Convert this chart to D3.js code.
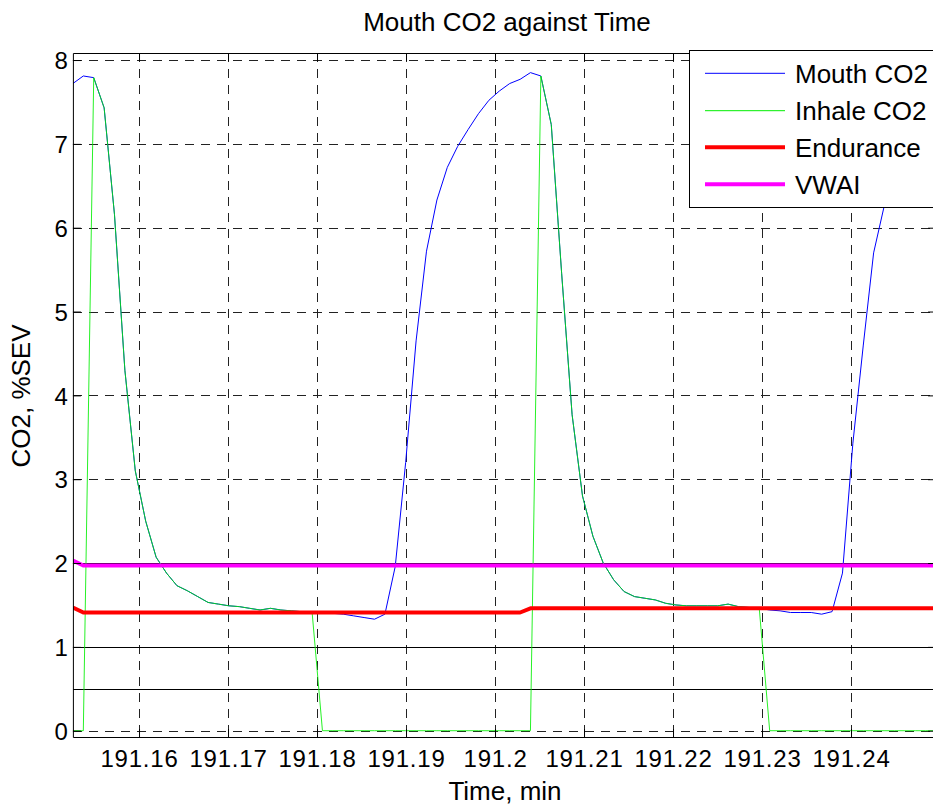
<!DOCTYPE html>
<html>
<head>
<meta charset="utf-8">
<script src="https://cdn.jsdelivr.net/npm/d3@7"></script>
<style>
  html, body { margin: 0; padding: 0; background: #fff; }
  svg { display: block; }
  text { font-family: "Liberation Sans", Arial, sans-serif; fill: #000; }
</style>
</head>
<body>
<svg id="chart" width="933" height="805"></svg>
<script>
// ---- DATA ----
const times = [
  191.15257, 191.15374, 191.15491, 191.15608, 191.15724, 191.15841, 191.15958, 191.16075, 191.16192, 191.16309,
  191.16426, 191.16542, 191.16659, 191.16776, 191.16893, 191.17010, 191.17127, 191.17243, 191.17360, 191.17477,
  191.17594, 191.17711, 191.17828, 191.17945, 191.18061, 191.18178, 191.18295, 191.18412, 191.18529, 191.18646,
  191.18763, 191.18879, 191.18996, 191.19113, 191.19230, 191.19347, 191.19464, 191.19580, 191.19697, 191.19814,
  191.19931, 191.20048, 191.20165, 191.20282, 191.20398, 191.20515, 191.20632, 191.20749, 191.20866, 191.20983,
  191.21100, 191.21216, 191.21333, 191.21450, 191.21567, 191.21684, 191.21801, 191.21917, 191.22034, 191.22151,
  191.22268, 191.22385, 191.22502, 191.22619, 191.22735, 191.22852, 191.22969, 191.23086, 191.23203, 191.23320,
  191.23436, 191.23553, 191.23670, 191.23787, 191.23904, 191.24021, 191.24138, 191.24254, 191.24371, 191.24488,
  191.24605, 191.24722, 191.24839, 191.24956
];
const mouthCO2 = [
  7.72, 7.81, 7.79, 7.43, 6.16, 4.30, 3.10, 2.50, 2.07, 1.88,
  1.73, 1.67, 1.60, 1.53, 1.51, 1.49, 1.48, 1.46, 1.44, 1.46,
  1.44, 1.43, 1.42, 1.41, 1.40, 1.40, 1.39, 1.37, 1.35, 1.33,
  1.39, 1.96, 3.20, 4.65, 5.72, 6.33, 6.72, 6.97, 7.17, 7.36,
  7.52, 7.63, 7.72, 7.77, 7.85, 7.81, 7.23, 5.45, 3.77, 2.80,
  2.32, 2.00, 1.80, 1.66, 1.60, 1.58, 1.56, 1.52, 1.50, 1.49,
  1.49, 1.49, 1.49, 1.51, 1.48, 1.47, 1.46, 1.44, 1.43, 1.41,
  1.41, 1.41, 1.39, 1.42, 1.88, 3.43, 4.60, 5.70, 6.25, 6.70,
  7.00, 7.25, 7.42, 7.55
];
const inhaleCO2 = [
  0, 0, 7.79, 7.43, 6.16, 4.30, 3.10, 2.50, 2.07, 1.88,
  1.73, 1.67, 1.60, 1.53, 1.51, 1.49, 1.48, 1.46, 1.44, 1.46,
  1.44, 1.43, 1.42, 1.41, 0, 0, 0, 0, 0, 0,
  0, 0, 0, 0, 0, 0, 0, 0, 0, 0,
  0, 0, 0, 0, 0, 7.81, 7.23, 5.45, 3.77, 2.80,
  2.32, 2.00, 1.80, 1.66, 1.60, 1.58, 1.56, 1.52, 1.50, 1.49,
  1.49, 1.49, 1.49, 1.51, 1.48, 1.47, 1.46, 0, 0, 0,
  0, 0, 0, 0, 0, 0, 0, 0, 0, 0,
  0, 0, 0, 0
];
const endurance = [
  1.47, 1.41, 1.41, 1.41, 1.41, 1.41, 1.41, 1.41, 1.41, 1.41,
  1.41, 1.41, 1.41, 1.41, 1.41, 1.41, 1.41, 1.41, 1.41, 1.41,
  1.41, 1.41, 1.41, 1.41, 1.41, 1.41, 1.41, 1.41, 1.41, 1.41,
  1.41, 1.41, 1.41, 1.41, 1.41, 1.41, 1.41, 1.41, 1.41, 1.41,
  1.41, 1.41, 1.41, 1.41, 1.46, 1.46, 1.46, 1.46, 1.46, 1.46,
  1.46, 1.46, 1.46, 1.46, 1.46, 1.46, 1.46, 1.46, 1.46, 1.46,
  1.46, 1.46, 1.46, 1.46, 1.46, 1.46, 1.46, 1.46, 1.46, 1.46,
  1.46, 1.46, 1.46, 1.46, 1.46, 1.46, 1.46, 1.46, 1.46, 1.46,
  1.46, 1.46, 1.46, 1.46
];
const vwai = [
  2.03, 1.97, 1.97, 1.97, 1.97, 1.97, 1.97, 1.97, 1.97, 1.97,
  1.97, 1.97, 1.97, 1.97, 1.97, 1.97, 1.97, 1.97, 1.97, 1.97,
  1.97, 1.97, 1.97, 1.97, 1.97, 1.97, 1.97, 1.97, 1.97, 1.97,
  1.97, 1.97, 1.97, 1.97, 1.97, 1.97, 1.97, 1.97, 1.97, 1.97,
  1.97, 1.97, 1.97, 1.97, 1.97, 1.97, 1.97, 1.97, 1.97, 1.97,
  1.97, 1.97, 1.97, 1.97, 1.97, 1.97, 1.97, 1.97, 1.97, 1.97,
  1.97, 1.97, 1.97, 1.97, 1.97, 1.97, 1.97, 1.97, 1.97, 1.97,
  1.97, 1.97, 1.97, 1.97, 1.97, 1.97, 1.97, 1.97, 1.97, 1.97,
  1.97, 1.97, 1.97, 1.97
];
const refLevels = [0.5, 1, 2];
const xTicks = [191.16, 191.17, 191.18, 191.19, 191.20, 191.21, 191.22, 191.23, 191.24];
const xTickLabels = ["191.16", "191.17", "191.18", "191.19", "191.2", "191.21", "191.22", "191.23", "191.24"];
const yTicks = [0, 1, 2, 3, 4, 5, 6, 7, 8];
const seriesNames = ["Mouth CO2", "Inhale CO2", "Endurance", "VWAI"];
const yDomain = [-0.075, 8.084];

// ---- LAYOUT ----
const L = 72.9, R = 936.1, T = 53, B = 737;
const svg = d3.select("#chart");

const x = d3.scaleLinear().domain([times[0], times[times.length - 1]]).range([L, R]);
const y = d3.scaleLinear().domain(yDomain).range([B, T]);

svg.append("defs").append("clipPath").attr("id", "plotclip")
  .append("rect").attr("x", L).attr("y", T).attr("width", R - L).attr("height", B - T);

// grid
const grid = svg.append("g").attr("stroke", "#222").attr("stroke-width", 1)
  .attr("stroke-dasharray", "9,7").attr("shape-rendering", "crispEdges");
grid.selectAll("line.v").data(xTicks).join("line").attr("class", "v")
  .attr("x1", d => Math.round(x(d)) + 0.5).attr("x2", d => Math.round(x(d)) + 0.5)
  .attr("y1", T).attr("y2", B);
grid.selectAll("line.h").data(yTicks).join("line").attr("class", "h")
  .attr("x1", L).attr("x2", R)
  .attr("y1", d => Math.round(y(d)) + 0.5).attr("y2", d => Math.round(y(d)) + 0.5);

// reference lines
svg.append("g").attr("stroke", "#000").attr("stroke-width", 1).attr("shape-rendering", "crispEdges")
  .selectAll("line").data(refLevels).join("line")
  .attr("x1", L).attr("x2", R)
  .attr("y1", d => Math.round(y(d)) + 0.5).attr("y2", d => Math.round(y(d)) + 0.5);

// data lines
const series = [
  { name: seriesNames[0], values: mouthCO2, color: "#0000ff", width: 1 },
  { name: seriesNames[1], values: inhaleCO2, color: "#00ee00", width: 1 },
  { name: seriesNames[2], values: endurance, color: "#ff0000", width: 4 },
  { name: seriesNames[3], values: vwai, color: "#ff00ff", width: 4 }
];
const line = d3.line().x((d, i) => x(times[i])).y(d => y(d));
const plot = svg.append("g").attr("clip-path", "url(#plotclip)");
series.forEach(s => {
  plot.append("path").datum(s.values)
    .attr("fill", "none").attr("stroke", s.color).attr("stroke-width", s.width)
    .attr("stroke-linejoin", "round")
    .attr("opacity", s.name === "Inhale CO2" ? 0.85 : 1)
    .attr("d", line);
});

// axes
const fmtX = d => xTickLabels[xTicks.indexOf(d)];
const axB = svg.append("g").attr("transform", `translate(0,${B})`)
  .call(d3.axisBottom(x).tickValues(xTicks).tickFormat(fmtX).tickSizeInner(-8).tickSizeOuter(0).tickPadding(0));
axB.selectAll("text").attr("dy", null).attr("y", 29.5)
  .style("font-size", "24px").style("letter-spacing", "0.8px");
const axT = svg.append("g").attr("transform", `translate(0,${T})`)
  .call(d3.axisTop(x).tickValues(xTicks).tickFormat("").tickSizeInner(-8).tickSizeOuter(0));
const axL = svg.append("g").attr("transform", `translate(${L},0)`)
  .call(d3.axisLeft(y).tickValues(yTicks).tickFormat(d3.format("d")).tickSizeInner(-8).tickSizeOuter(0).tickPadding(5));
axL.selectAll("text").attr("dy", "0.36em").style("font-size", "24px");
const axR = svg.append("g").attr("transform", `translate(${R},0)`)
  .call(d3.axisRight(y).tickValues(yTicks).tickFormat("").tickSizeInner(-8).tickSizeOuter(0));
[axB, axT, axL, axR].forEach(a => {
  a.select(".domain").attr("stroke", "#000").attr("stroke-width", 1);
  a.selectAll(".tick line").attr("stroke", "#000");
  a.selectAll("text").attr("fill", "#000").style("font-family", '"Liberation Sans", Arial, sans-serif');
});

// titles
svg.append("text").attr("x", 507).attr("y", 31).attr("text-anchor", "middle")
  .style("font-size", "26px").text("Mouth CO2 against Time");
svg.append("text").attr("x", 505).attr("y", 800).attr("text-anchor", "middle")
  .style("font-size", "26px").text("Time, min");
svg.append("text").attr("transform", "translate(30,396) rotate(-90)").attr("text-anchor", "middle")
  .style("font-size", "26px").text("CO2, %SEV");

// legend
const lg = svg.append("g");
lg.append("rect").attr("x", 689.5).attr("y", 50.5).attr("width", 260).attr("height", 157)
  .attr("fill", "#fff").attr("stroke", "#000").attr("stroke-width", 1);
const rowY = [73.3, 110.7, 147.3, 184.3];
series.forEach((s, i) => {
  lg.append("line").attr("x1", 705).attr("x2", 785).attr("y1", rowY[i]).attr("y2", rowY[i])
    .attr("stroke", s.color).attr("stroke-width", s.width);
  lg.append("text").attr("x", 795).attr("y", rowY[i] + 9.5).style("font-size", "26px").text(s.name);
});
</script>
</body>
</html>
